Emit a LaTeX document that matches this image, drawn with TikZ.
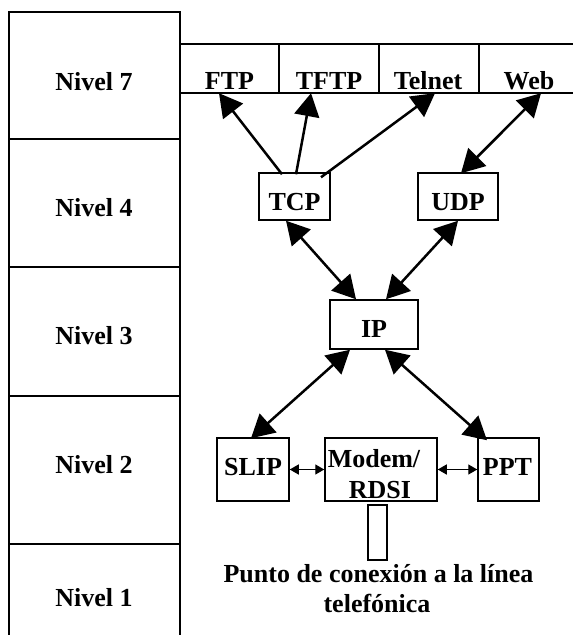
\documentclass[tikz,border=0pt]{standalone}
\usepackage{fontspec}
\setmainfont{Liberation Serif}
\usetikzlibrary{arrows.meta}
\begin{document}
\begin{tikzpicture}[x=1pt,y=-1pt,
  txt/.style={font=\fontsize{26}{30}\selectfont\bfseries, anchor=base, inner sep=0pt},
  box/.style={draw, line width=1.5pt, inner sep=0pt},
  cell/.style={inner sep=0pt, minimum width=99pt, minimum height=49pt},
  grid/.style={line width=1.5pt},
  big/.style={line width=2.5pt, {Triangle[length=23pt,width=25pt]}-{Triangle[length=23pt,width=25pt]}},
  one/.style={line width=2.5pt, -{Triangle[length=23pt,width=25pt]}},
  small/.style={line width=1.4pt, {Triangle[length=9pt,width=10pt]}-{Triangle[length=9pt,width=10pt]}},
]
\useasboundingbox (0,0) rectangle (573,635);

% left level column
\draw[grid] (9,635) -- (9,12) -- (180,12) -- (180,635);
\foreach \yy in {139,267,396,544} \draw[grid] (9,\yy) -- (180,\yy);
\node[txt] (n7) at (94,90) {Nivel 7};
\node[txt] (n4) at (94,216) {Nivel 4};
\node[txt] (n3) at (94,344) {Nivel 3};
\node[txt] (n2) at (94,473) {Nivel 2};
\node[txt] (n1) at (94,606) {Nivel 1};

% application row
\draw[grid] (180,44) -- (573,44);
\draw[grid] (180,93) -- (573,93);
\foreach \xx in {279,379,479} \draw[grid] (\xx,44) -- (\xx,93);
\node[cell] (ftp) at (229.5,68.5) {};
\node[cell] (tftp) at (329,68.5) {};
\node[cell] (telnet) at (429,68.5) {};
\node[cell] (web) at (526,68.5) {};
\node[txt] (ftpl) at (229.5,89) {FTP};
\node[txt] (tftpl) at (329,89) {TFTP};
\node[txt] (telnetl) at (428,89) {Telnet};
\node[txt] (webl) at (529,89) {Web};

% transport / network boxes
\node[box, minimum width=71pt, minimum height=47pt] (tcp) at (294.5,196.5) {};
\node[box, minimum width=80pt, minimum height=47pt] (udp) at (458,196.5) {};
\node[box, minimum width=88pt, minimum height=49pt] (ip) at (374,324.5) {};
\node[txt] (tcpl) at (294.5,210) {TCP};
\node[txt] (udpl) at (458,210) {UDP};
\node[txt] (ipl) at (374,337) {IP};

% link layer
\node[box, minimum width=72pt, minimum height=63pt] (slip) at (253,469.5) {};
\node[box, minimum width=112pt, minimum height=63pt] (modem) at (381,469.5) {};
\node[box, minimum width=61pt, minimum height=63pt] (ppt) at (508.5,469.5) {};
\node[txt] (slipl) at (253,475) {SLIP};
\node[txt] (modeml) at (374,467) {Modem/};
\node[txt] (rdsil) at (380,498) {RDSI};
\node[txt] (pptl) at (507.5,475) {PPT};

\node[box, line width=1.3pt, minimum width=19pt, minimum height=55pt] (plug) at (377.5,532.5) {};
\node[txt] (punto1) at (378.5,582) {Punto de conexión a la línea};
\node[txt] (punto2) at (377,612) {telefónica};

% connectors
\draw[one] ([xshift=-12.5pt,yshift=-2pt]tcp.north) -- ([xshift=-10.5pt]ftp.south);
\draw[one] ([xshift=1.5pt,yshift=-2pt]tcp.north) -- ([xshift=-18pt]tftp.south);
\draw[one] ([xshift=26.5pt,yshift=-5pt]tcp.north) -- ([xshift=6pt]telnet.south);
\draw[big] ([xshift=3pt,yshift=-1pt]udp.north) -- ([xshift=15pt]web.south);
\draw[big] ([xshift=-8.5pt]tcp.south) -- ([xshift=-18pt]ip.north);
\draw[big] (udp.south) -- ([xshift=12pt]ip.north);
\draw[big] ([xshift=-24pt]ip.south) -- ([xshift=-2pt,yshift=-1pt]slip.north);
\draw[big] ([xshift=11pt]ip.south) -- ([xshift=-21.5pt,yshift=-3pt]ppt.north);
\draw[small] (slip.east) -- (modem.west);
\draw[small] (modem.east) -- (ppt.west);
\end{tikzpicture}
\end{document}
